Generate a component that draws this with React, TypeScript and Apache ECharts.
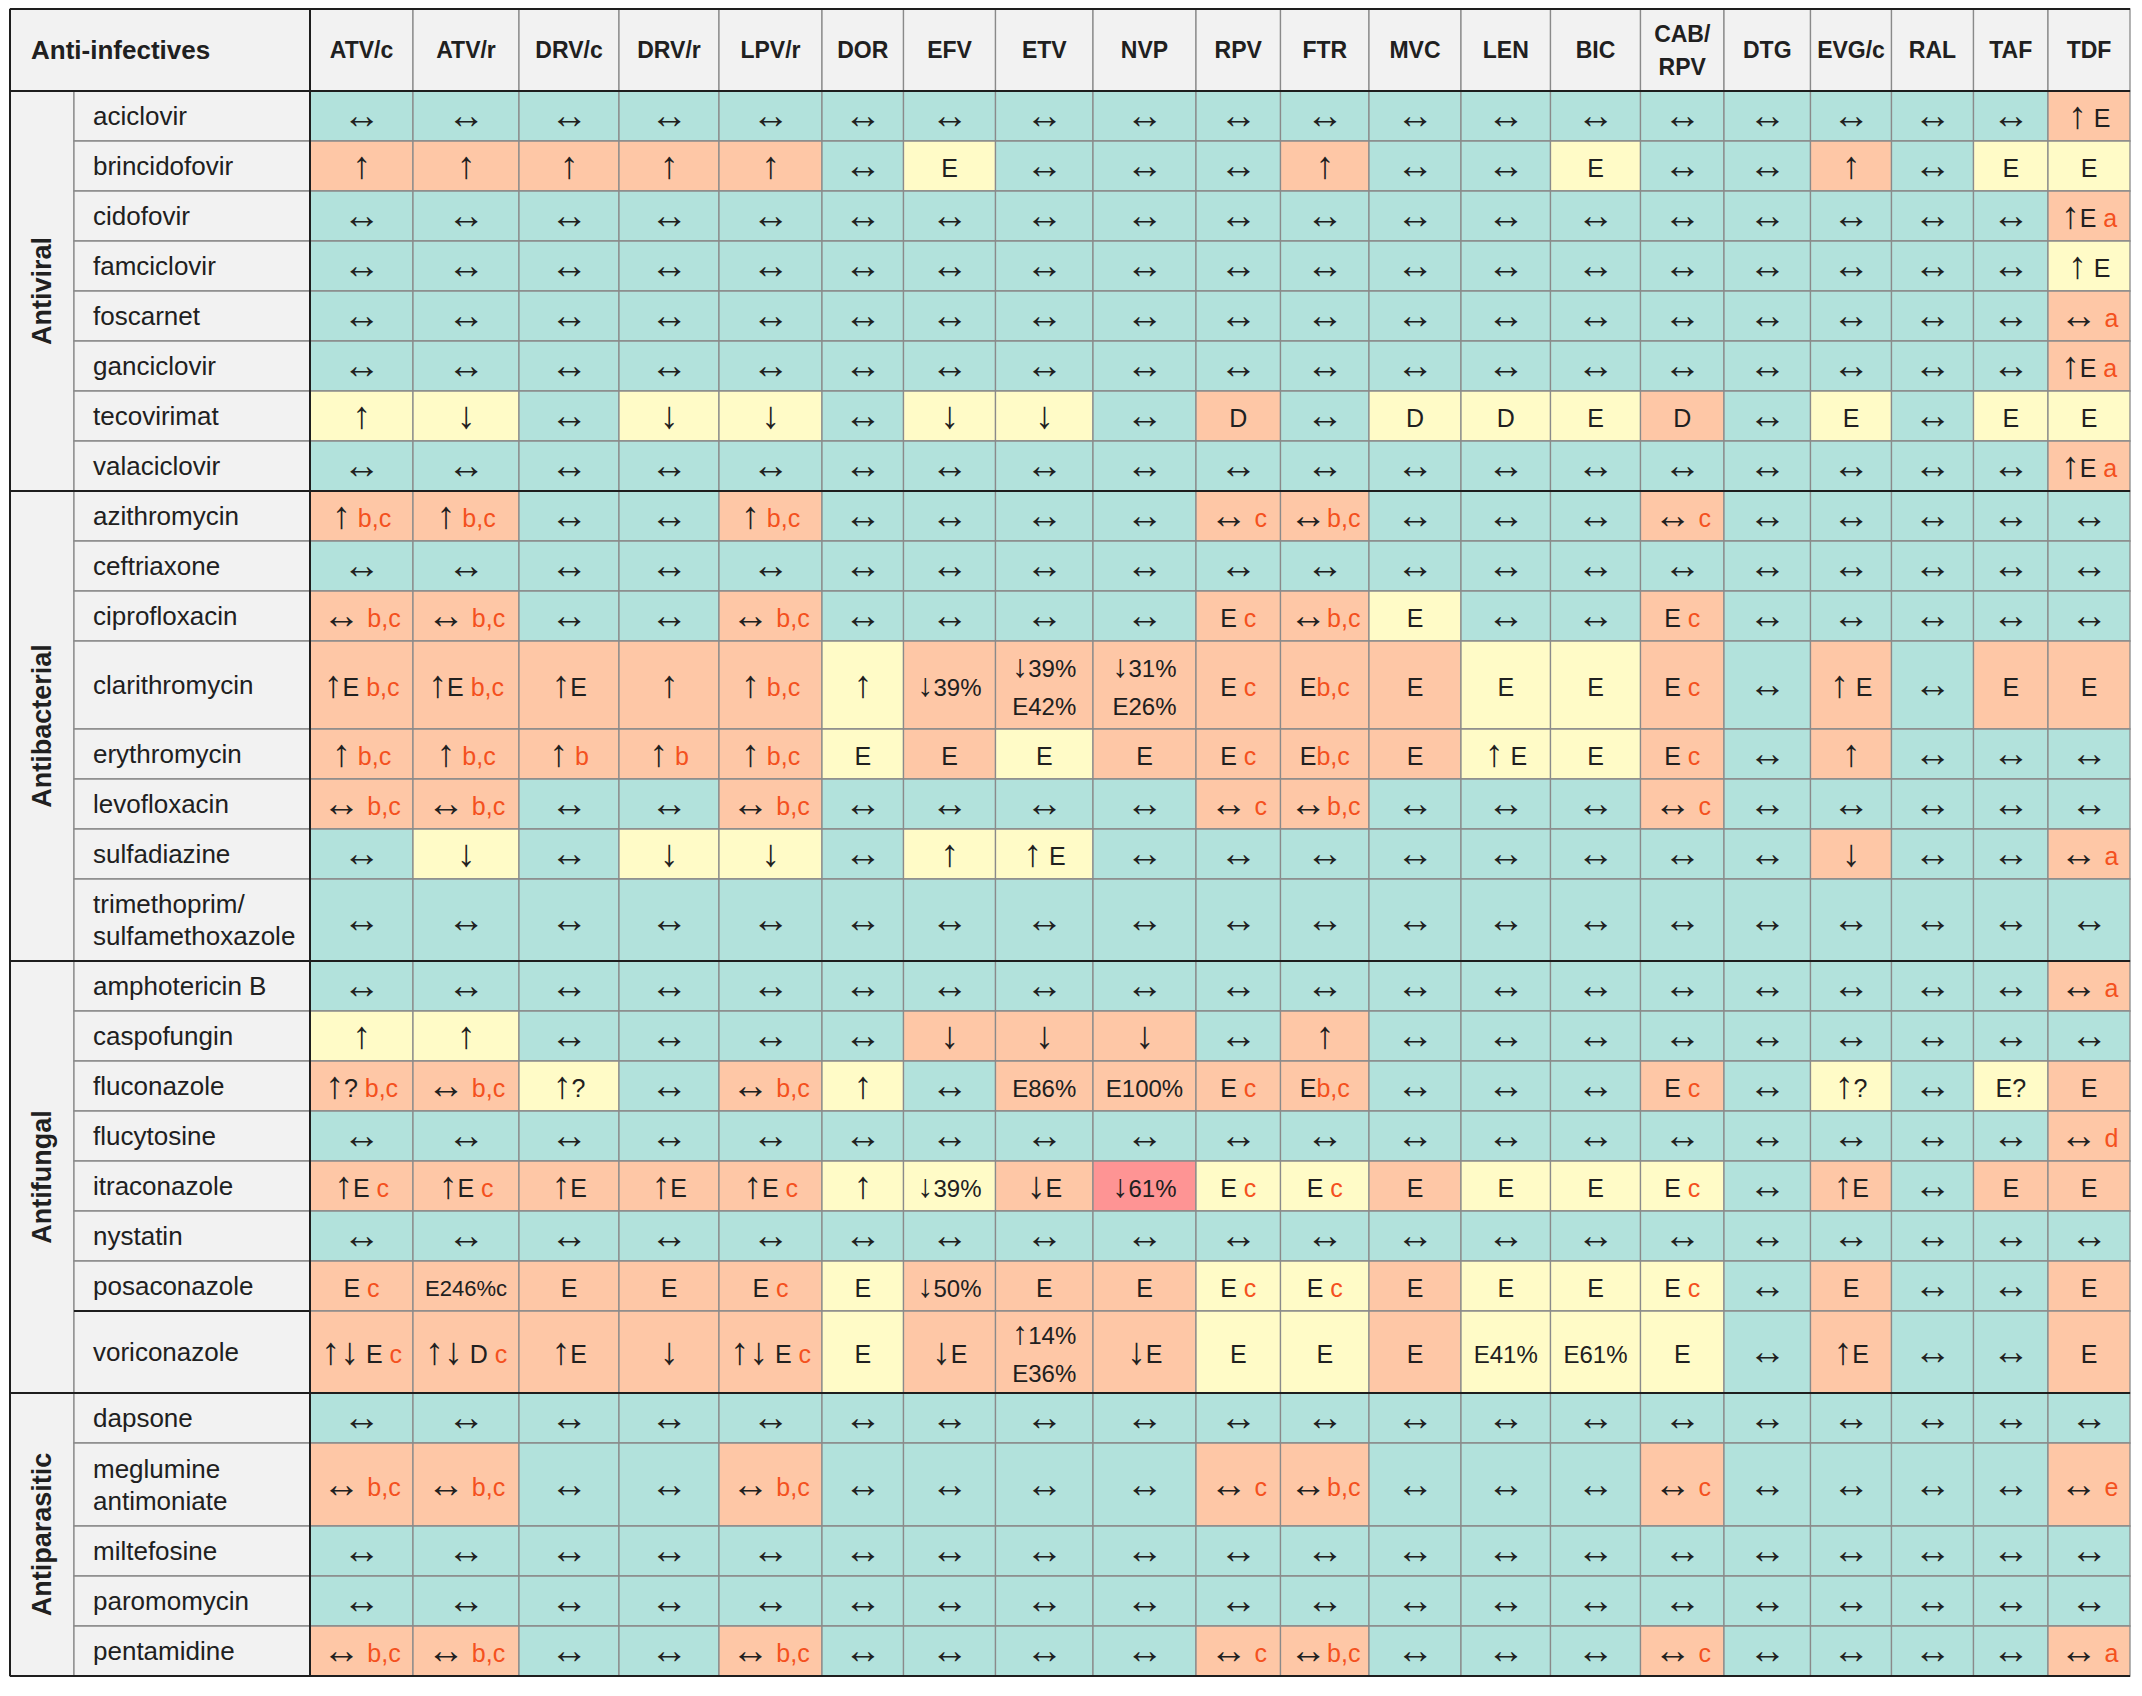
import React, { useEffect, useRef } from "react";
import * as echarts from "echarts";

// ---------- DATA ----------
const N = "↔";

const tableTitle = "Anti-infectives";

const drugColumns = [
  "ATV/c", "ATV/r", "DRV/c", "DRV/r", "LPV/r", "DOR", "EFV", "ETV", "NVP", "RPV",
  "FTR", "MVC", "LEN", "BIC", "CAB/\nRPV", "DTG", "EVG/c", "RAL", "TAF", "TDF",
];

const groupLabels = ["Antiviral", "Antibacterial", "Antifungal", "Antiparasitic"];

// "^" separates the main mark from the footnote letters (drawn in red)
const antiviralDrugs = [
  "aciclovir", "brincidofovir", "cidofovir", "famciclovir", "foscarnet",
  "ganciclovir", "tecovirimat", "valaciclovir",
];
const antiviralCells = [
  [N, N, N, N, N, N, N, N, N, N, N, N, N, N, N, N, N, N, N, "↑ E"],
  ["↑", "↑", "↑", "↑", "↑", N, "E", N, N, N, "↑", N, N, "E", N, N, "↑", N, "E", "E"],
  [N, N, N, N, N, N, N, N, N, N, N, N, N, N, N, N, N, N, N, "↑E ^a"],
  [N, N, N, N, N, N, N, N, N, N, N, N, N, N, N, N, N, N, N, "↑ E"],
  [N, N, N, N, N, N, N, N, N, N, N, N, N, N, N, N, N, N, N, "↔ ^a"],
  [N, N, N, N, N, N, N, N, N, N, N, N, N, N, N, N, N, N, N, "↑E ^a"],
  ["↑", "↓", N, "↓", "↓", N, "↓", "↓", N, "D", N, "D", "D", "E", "D", N, "E", N, "E", "E"],
  [N, N, N, N, N, N, N, N, N, N, N, N, N, N, N, N, N, N, N, "↑E ^a"],
];
// g = no interaction, y = weak, o = potential, r = do not co-administer
const antiviralColours = [
  "ggggg ggggg ggggg ggggo",
  "ooooo gyggg oggyg gogyy",
  "ggggg ggggg ggggg ggggo",
  "ggggg ggggg ggggg ggggy",
  "ggggg ggggg ggggg ggggo",
  "ggggg ggggg ggggg ggggo",
  "yygyy gyygo gyyyo gygyy",
  "ggggg ggggg ggggg ggggo",
];

const antibacterialDrugs = [
  "azithromycin", "ceftriaxone", "ciprofloxacin", "clarithromycin", "erythromycin",
  "levofloxacin", "sulfadiazine", "trimethoprim/\nsulfamethoxazole",
];
const antibacterialCells = [
  ["↑ ^b,c", "↑ ^b,c", N, N, "↑ ^b,c", N, N, N, N, "↔ ^c", "↔^b,c", N, N, N, "↔ ^c", N, N, N, N, N],
  [N, N, N, N, N, N, N, N, N, N, N, N, N, N, N, N, N, N, N, N],
  ["↔ ^b,c", "↔ ^b,c", N, N, "↔ ^b,c", N, N, N, N, "E ^c", "↔^b,c", "E", N, N, "E ^c", N, N, N, N, N],
  ["↑E ^b,c", "↑E ^b,c", "↑E", "↑", "↑ ^b,c", "↑", "↓39%", "↓39%\nE42%", "↓31%\nE26%", "E ^c",
    "E^b,c", "E", "E", "E", "E ^c", N, "↑ E", N, "E", "E"],
  ["↑ ^b,c", "↑ ^b,c", "↑ ^b", "↑ ^b", "↑ ^b,c", "E", "E", "E", "E", "E ^c",
    "E^b,c", "E", "↑ E", "E", "E ^c", N, "↑", N, N, N],
  ["↔ ^b,c", "↔ ^b,c", N, N, "↔ ^b,c", N, N, N, N, "↔ ^c", "↔^b,c", N, N, N, "↔ ^c", N, N, N, N, N],
  [N, "↓", N, "↓", "↓", N, "↑", "↑ E", N, N, N, N, N, N, N, N, "↓", N, N, "↔ ^a"],
  [N, N, N, N, N, N, N, N, N, N, N, N, N, N, N, N, N, N, N, N],
];
const antibacterialColours = [
  "ooggo ggggo ogggo ggggg",
  "ggggg ggggg ggggg ggggg",
  "ooggo ggggo oyggo ggggg",
  "ooooo yoooo ooyyo gogoo",
  "ooooo yoyoo ooyyo goggg",
  "ooggo ggggo ogggo ggggg",
  "gygyy gyygg ggggg goggo",
  "ggggg ggggg ggggg ggggg",
];

const antifungalDrugs = [
  "amphotericin B", "caspofungin", "fluconazole", "flucytosine", "itraconazole",
  "nystatin", "posaconazole", "voriconazole",
];
const antifungalCells = [
  [N, N, N, N, N, N, N, N, N, N, N, N, N, N, N, N, N, N, N, "↔ ^a"],
  ["↑", "↑", N, N, N, N, "↓", "↓", "↓", N, "↑", N, N, N, N, N, N, N, N, N],
  ["↑? ^b,c", "↔ ^b,c", "↑?", N, "↔ ^b,c", "↑", N, "E86%", "E100%", "E ^c",
    "E^b,c", N, N, N, "E ^c", N, "↑?", N, "E?", "E"],
  [N, N, N, N, N, N, N, N, N, N, N, N, N, N, N, N, N, N, N, "↔ ^d"],
  ["↑E ^c", "↑E ^c", "↑E", "↑E", "↑E ^c", "↑", "↓39%", "↓E", "↓61%", "E ^c",
    "E ^c", "E", "E", "E", "E ^c", N, "↑E", N, "E", "E"],
  [N, N, N, N, N, N, N, N, N, N, N, N, N, N, N, N, N, N, N, N],
  ["E ^c", "E246%c", "E", "E", "E ^c", "E", "↓50%", "E", "E", "E ^c",
    "E ^c", "E", "E", "E", "E ^c", N, "E", N, N, "E"],
  ["↑↓ E ^c", "↑↓ D ^c", "↑E", "↓", "↑↓ E ^c", "E", "↓E", "↑14%\nE36%", "↓E", "E",
    "E", "E", "E41%", "E61%", "E", N, "↑E", N, N, "E"],
];
const antifungalColours = [
  "ggggg ggggg ggggg ggggo",
  "yyggg gooog ogggg ggggg",
  "ooygo ygooo ogggo gygyo",
  "ggggg ggggg ggggg ggggo",
  "ooooo yyory yoyyy gogoo",
  "ggggg ggggg ggggg ggggg",
  "ooooo yoooy yoyyy goggo",
  "ooooo yoooy yoyyy goggo",
];

const antiparasiticDrugs = [
  "dapsone", "meglumine\nantimoniate", "miltefosine", "paromomycin", "pentamidine",
];
const antiparasiticCells = [
  [N, N, N, N, N, N, N, N, N, N, N, N, N, N, N, N, N, N, N, N],
  ["↔ ^b,c", "↔ ^b,c", N, N, "↔ ^b,c", N, N, N, N, "↔ ^c", "↔^b,c", N, N, N, "↔ ^c", N, N, N, N, "↔ ^e"],
  [N, N, N, N, N, N, N, N, N, N, N, N, N, N, N, N, N, N, N, N],
  [N, N, N, N, N, N, N, N, N, N, N, N, N, N, N, N, N, N, N, N],
  ["↔ ^b,c", "↔ ^b,c", N, N, "↔ ^b,c", N, N, N, N, "↔ ^c", "↔^b,c", N, N, N, "↔ ^c", N, N, N, N, "↔ ^a"],
];
const antiparasiticColours = [
  "ggggg ggggg ggggg ggggg",
  "ooggo ggggo ogggo ggggo",
  "ggggg ggggg ggggg ggggg",
  "ggggg ggggg ggggg ggggg",
  "ooggo ggggo ogggo ggggo",
];

// ---------- LAYOUT / STYLE ----------
const colWidths = [64, 236, 103, 106, 100, 100, 103, 81.5, 92, 97.5, 103, 84.5, 88.5, 92, 89.5, 90, 83.5, 86.5, 81, 82, 74.5, 82];
const headerHeight = 82;
const baseRowHeight = 50;
const tallRowHeights: Record<string, number> = {
  clarithromycin: 88,
  "trimethoprim/\nsulfamethoxazole": 82,
  voriconazole: 82,
  "meglumine\nantimoniate": 83,
};
const darkNameRuleAfter = ["posaconazole"];

const palette: Record<string, string> = {
  g: "#b2e2dc",
  o: "#fec7a6",
  y: "#fffbc7",
  r: "#fe9494",
};
const headBg = "#f2f2f2";
const gridGrey = "#8a8a8a";
const ruleDark = "#1e1e1e";
const textDark = "#202020";
const footRed = "#f4511e";
const FONT = "'Liberation Sans', Arial, 'DejaVu Sans', sans-serif";

// ---------- BUILD ----------
const groups = [
  { label: groupLabels[0], drugs: antiviralDrugs, cells: antiviralCells, colours: antiviralColours },
  { label: groupLabels[1], drugs: antibacterialDrugs, cells: antibacterialCells, colours: antibacterialColours },
  { label: groupLabels[2], drugs: antifungalDrugs, cells: antifungalCells, colours: antifungalColours },
  { label: groupLabels[3], drugs: antiparasiticDrugs, cells: antiparasiticCells, colours: antiparasiticColours },
];

const rows: { name: string; cells: string[]; colours: string }[] = [];
const groupSpans: { label: string; start: number; end: number }[] = [];
groups.forEach((g) => {
  const start = rows.length;
  g.drugs.forEach((d, i) =>
    rows.push({ name: d, cells: g.cells[i], colours: g.colours[i].replace(/\s/g, "") })
  );
  groupSpans.push({ label: g.label, start, end: rows.length });
});

const xEdges: number[] = [0];
colWidths.forEach((w) => xEdges.push(xEdges[xEdges.length - 1] + w));
const yEdges: number[] = [0, headerHeight];
rows.forEach((r) => yEdges.push(yEdges[yEdges.length - 1] + (tallRowHeights[r.name] || baseRowHeight)));
const totalW = xEdges[xEdges.length - 1];
const totalH = yEdges[yEdges.length - 1];

const cellList: { col: number; row: number; text: string; colour: string }[] = [];
rows.forEach((r, ri) =>
  r.cells.forEach((t, ci) => cellList.push({ col: ci, row: ri, text: t, colour: r.colours[ci] }))
);

function richLine(line: string, key: string): string {
  return line
    .split(/([↑↓↔]+)/)
    .filter((p) => p.length > 0)
    .map((p) => (/^[↑↓↔]+$/.test(p) ? `{${key === "m" ? "a" : "ap"}|${p}}` : `{${key}|${p}}`))
    .join("");
}

function richText(s: string): string {
  const [main, foot] = s.split("^");
  const key = main.includes("246") ? "s" : main.includes("%") ? "p" : "m";
  const body = main
    .split("\n")
    .map((l) => richLine(l, key))
    .join("\n");
  return foot ? `${body}{f|${foot}}` : body;
}

const richStyles = {
  m: { fontSize: 25, fontFamily: FONT, fill: textDark },
  a: { fontSize: 38, fontFamily: FONT, fill: textDark, padding: [0, 0, 6, 0] },
  ap: { fontSize: 32, fontFamily: FONT, fill: textDark, lineHeight: 38, padding: [0, 0, 5, 0] },
  p: { fontSize: 24, fontFamily: FONT, fill: textDark, lineHeight: 38 },
  s: { fontSize: 22, fontFamily: FONT, fill: textDark },
  f: { fontSize: 25, fontFamily: FONT, fill: footRed },
};

function rectBetween(api: any, x0: number, y0: number, x1: number, y1: number) {
  const a = api.coord([x0, y0]);
  const b = api.coord([x1, y1]);
  return { x: a[0], y: a[1], width: b[0] - a[0], height: b[1] - a[1] };
}

export default function App() {
  const ref = useRef<HTMLDivElement>(null);
  useEffect(() => {
    if (!ref.current) return;
    const chart = echarts.init(ref.current, null, { renderer: "svg" });

    const darkLines: number[][] = [];
    [0, 1, ...groupSpans.slice(1).map((g) => g.start + 1), yEdges.length - 1].forEach((yi) =>
      darkLines.push([0, yEdges[yi], totalW, yEdges[yi]])
    );
    darkLines.push([0, 0, 0, totalH]);
    darkLines.push([xEdges[2], 0, xEdges[2], totalH]);
    rows.forEach((r, ri) => {
      if (darkNameRuleAfter.includes(r.name))
        darkLines.push([xEdges[1], yEdges[ri + 2], xEdges[2], yEdges[ri + 2]]);
    });

    const option: any = {
      animation: false,
      backgroundColor: "#ffffff",
      grid: { left: 10, top: 9, width: totalW, height: totalH, containLabel: false },
      xAxis: { type: "value", min: 0, max: totalW, show: false },
      yAxis: { type: "value", min: 0, max: totalH, inverse: true, show: false },
      series: [
        // header
        {
          type: "custom",
          clip: false,
          z: 2,
          data: [[0, 0], ...drugColumns.map((_, i) => [i + 1, 0])],
          renderItem: (params: any, api: any) => {
            const i = params.dataIndex;
            const x0 = i === 0 ? xEdges[0] : xEdges[i + 1];
            const x1 = i === 0 ? xEdges[2] : xEdges[i + 2];
            const r = rectBetween(api, x0, yEdges[0], x1, yEdges[1]);
            const label = i === 0 ? tableTitle : drugColumns[i - 1];
            return {
              type: "group",
              children: [
                { type: "rect", shape: r, style: { fill: headBg, stroke: gridGrey, lineWidth: 1.3 } },
                {
                  type: "text",
                  x: i === 0 ? r.x + 21 : r.x + r.width / 2,
                  y: r.y + r.height / 2,
                  style: {
                    text: label,
                    fontFamily: FONT,
                    fontWeight: "bold",
                    fontSize: i === 0 ? 26 : 23,
                    lineHeight: 33,
                    fill: textDark,
                    align: i === 0 ? "left" : "center",
                    verticalAlign: "middle",
                  },
                },
              ],
            };
          },
        },
        // group label column
        {
          type: "custom",
          clip: false,
          z: 2,
          data: groupSpans.map((g) => [0, g.start]),
          renderItem: (params: any, api: any) => {
            const g = groupSpans[params.dataIndex];
            const r = rectBetween(api, xEdges[0], yEdges[g.start + 1], xEdges[1], yEdges[g.end + 1]);
            return {
              type: "group",
              children: [
                { type: "rect", shape: r, style: { fill: headBg, stroke: gridGrey, lineWidth: 1.3 } },
                {
                  type: "text",
                  x: r.x + r.width / 2,
                  y: r.y + r.height / 2,
                  rotation: Math.PI / 2,
                  style: {
                    text: g.label,
                    fontFamily: FONT,
                    fontWeight: "bold",
                    fontSize: 27,
                    fill: textDark,
                    align: "center",
                    verticalAlign: "middle",
                  },
                },
              ],
            };
          },
        },
        // drug names
        {
          type: "custom",
          clip: false,
          z: 2,
          data: rows.map((_, ri) => [1, ri]),
          renderItem: (params: any, api: any) => {
            const ri = params.dataIndex;
            const r = rectBetween(api, xEdges[1], yEdges[ri + 1], xEdges[2], yEdges[ri + 2]);
            return {
              type: "group",
              children: [
                { type: "rect", shape: r, style: { fill: headBg, stroke: gridGrey, lineWidth: 1.3 } },
                {
                  type: "text",
                  x: r.x + 19,
                  y: r.y + r.height / 2,
                  style: {
                    text: rows[ri].name,
                    fontFamily: FONT,
                    fontSize: 26,
                    lineHeight: 32,
                    fill: textDark,
                    align: "left",
                    verticalAlign: "middle",
                  },
                },
              ],
            };
          },
        },
        // interaction cells
        {
          type: "custom",
          clip: false,
          z: 2,
          data: cellList.map((c) => [c.col + 2, c.row]),
          renderItem: (params: any, api: any) => {
            const c = cellList[params.dataIndex];
            const r = rectBetween(api, xEdges[c.col + 2], yEdges[c.row + 1], xEdges[c.col + 3], yEdges[c.row + 2]);
            return {
              type: "group",
              children: [
                { type: "rect", shape: r, style: { fill: palette[c.colour], stroke: gridGrey, lineWidth: 1.3 } },
                {
                  type: "text",
                  x: r.x + r.width / 2,
                  y: r.y + r.height / 2 + 2,
                  style: {
                    text: richText(c.text),
                    rich: richStyles,
                    fontFamily: FONT,
                    fontSize: 25,
                    fill: textDark,
                    align: "center",
                    verticalAlign: "middle",
                  },
                },
              ],
            };
          },
        },
        // dark rules
        {
          type: "custom",
          clip: false,
          z: 5,
          data: darkLines.map((l) => [l[0], l[1]]),
          renderItem: (params: any, api: any) => {
            const l = darkLines[params.dataIndex];
            const a = api.coord([l[0], l[1]]);
            const b = api.coord([l[2], l[3]]);
            return {
              type: "line",
              shape: { x1: a[0], y1: a[1], x2: b[0], y2: b[1] },
              style: { stroke: ruleDark, lineWidth: 2 },
            };
          },
        },
      ],
    };
    chart.setOption(option);
    return () => chart.dispose();
  }, []);

  return (
    <div
      ref={ref}
      style={{ position: "absolute", left: 0, top: 0, width: 2142, height: 1696, background: "#fff" }}
    />
  );
}
